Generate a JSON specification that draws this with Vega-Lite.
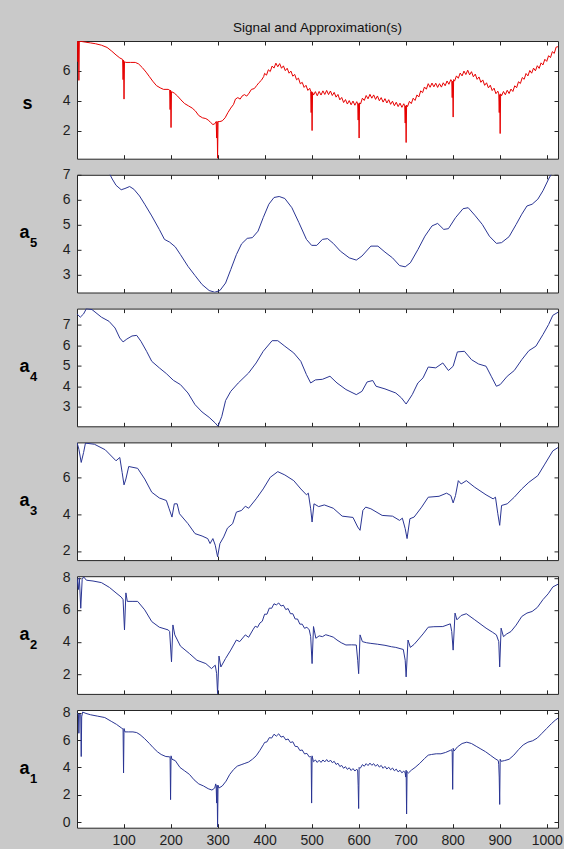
{
  "$schema": "https://vega.github.io/schema/vega-lite/v6.json",
  "background": "#c9c9c9",
  "padding": {"left": 18, "right": 5, "top": 20, "bottom": 4},
  "spacing": 15.8,
  "bounds": "flush",
  "datasets": {
    "s": [
      {"x":1,"y":7.95},{"x":2,"y":7.95},{"x":3,"y":6.6},{"x":4,"y":7.95},{"x":5,"y":5.35},{"x":6,"y":7.95},{"x":10,"y":7.95},{"x":20,"y":7.9},{"x":30,"y":7.85},{"x":40,"y":7.8},{"x":53,"y":7.7},{"x":65,"y":7.55},{"x":75,"y":7.3},{"x":84,"y":7.05},{"x":92,"y":6.85},{"x":98,"y":6.75},{"x":99,"y":5.4},{"x":100,"y":6.7},{"x":101,"y":4.1},{"x":102,"y":6.6},{"x":105,"y":6.55},{"x":115,"y":6.55},{"x":125,"y":6.55},{"x":132,"y":6.45},{"x":140,"y":6.2},{"x":148,"y":5.9},{"x":155,"y":5.6},{"x":162,"y":5.3},{"x":170,"y":5.0},{"x":178,"y":4.85},{"x":185,"y":4.75},{"x":195,"y":4.75},{"x":198,"y":4.7},{"x":199,"y":3.4},{"x":200,"y":4.7},{"x":201,"y":2.2},{"x":202,"y":4.6},{"x":208,"y":4.5},{"x":215,"y":4.3},{"x":222,"y":4.05},{"x":230,"y":3.8},{"x":238,"y":3.65},{"x":246,"y":3.5},{"x":253,"y":3.3},{"x":260,"y":3.0},{"x":268,"y":2.85},{"x":275,"y":2.8},{"x":280,"y":2.7},{"x":285,"y":2.55},{"x":290,"y":2.4},{"x":294,"y":2.45},{"x":297,"y":2.6},{"x":298,"y":1.5},{"x":299,"y":2.6},{"x":300,"y":0.15},{"x":301,"y":2.6},{"x":305,"y":2.6},{"x":310,"y":2.65},{"x":316,"y":2.85},{"x":322,"y":3.2},{"x":328,"y":3.5},{"x":334,"y":3.75},{"x":338,"y":4.1},{"x":343,"y":4.2},{"x":348,"y":4.1},{"x":352,"y":4.3},{"x":357,"y":4.4},{"x":362,"y":4.3},{"x":367,"y":4.5},{"x":372,"y":4.75},{"x":378,"y":4.8},{"x":383,"y":5.0},{"x":388,"y":5.2},{"x":393,"y":5.35},{"x":398,"y":5.6},
      {"x":400,"y":5.82},{"x":404,"y":5.7},{"x":408,"y":6.06},{"x":412,"y":5.94},{"x":416,"y":6.31},{"x":420,"y":6.17},{"x":424,"y":6.5},{"x":428,"y":6.26},{"x":432,"y":6.47},{"x":436,"y":6.16},{"x":440,"y":6.32},{"x":444,"y":6.0},{"x":448,"y":6.16},{"x":452,"y":5.83},{"x":456,"y":5.97},{"x":460,"y":5.63},{"x":464,"y":5.75},{"x":468,"y":5.39},{"x":472,"y":5.5},{"x":476,"y":5.12},{"x":480,"y":5.22},{"x":484,"y":4.88},{"x":488,"y":5.02},{"x":492,"y":4.68},{"x":496,"y":4.82},{"x":498,"y":4.62},{"x":499,"y":3.2},{"x":500,"y":4.6},{"x":501,"y":2.0},{"x":502,"y":4.55},
      {"x":504,"y":4.37},{"x":508,"y":4.6},{"x":512,"y":4.32},{"x":516,"y":4.61},{"x":520,"y":4.37},{"x":524,"y":4.65},{"x":528,"y":4.41},{"x":532,"y":4.68},{"x":536,"y":4.4},{"x":540,"y":4.64},{"x":544,"y":4.34},{"x":548,"y":4.55},{"x":552,"y":4.23},{"x":556,"y":4.41},{"x":560,"y":4.05},{"x":564,"y":4.21},{"x":568,"y":3.87},{"x":572,"y":4.07},{"x":576,"y":3.77},{"x":580,"y":4.0},{"x":584,"y":3.72},{"x":588,"y":3.97},{"x":592,"y":3.69},{"x":596,"y":3.93},{"x":598,"y":3.78},{"x":599,"y":2.7},{"x":600,"y":3.8},{"x":601,"y":1.5},{"x":602,"y":3.85},
      {"x":604,"y":3.77},{"x":608,"y":4.16},{"x":612,"y":4.01},{"x":616,"y":4.34},{"x":620,"y":4.12},{"x":624,"y":4.42},{"x":628,"y":4.16},{"x":632,"y":4.38},{"x":636,"y":4.08},{"x":640,"y":4.31},{"x":644,"y":3.99},{"x":648,"y":4.2},{"x":652,"y":3.9},{"x":656,"y":4.13},{"x":660,"y":3.84},{"x":664,"y":4.06},{"x":668,"y":3.75},{"x":672,"y":3.96},{"x":676,"y":3.66},{"x":680,"y":3.89},{"x":684,"y":3.6},{"x":688,"y":3.83},{"x":692,"y":3.55},{"x":696,"y":3.79},{"x":698,"y":3.65},{"x":699,"y":2.5},{"x":700,"y":3.65},{"x":701,"y":1.2},{"x":702,"y":3.7},
      {"x":704,"y":3.6},{"x":708,"y":3.95},{"x":712,"y":3.8},{"x":716,"y":4.16},{"x":720,"y":4.01},{"x":724,"y":4.38},{"x":728,"y":4.24},{"x":732,"y":4.65},{"x":736,"y":4.53},{"x":740,"y":4.91},{"x":744,"y":4.76},{"x":748,"y":5.13},{"x":752,"y":4.89},{"x":756,"y":5.17},{"x":760,"y":4.92},{"x":764,"y":5.16},{"x":768,"y":4.88},{"x":772,"y":5.13},{"x":776,"y":4.9},{"x":780,"y":5.19},{"x":784,"y":4.99},{"x":788,"y":5.31},{"x":792,"y":5.09},{"x":796,"y":5.4},{"x":798,"y":5.3},{"x":799,"y":4.2},{"x":800,"y":5.3},{"x":801,"y":2.9},{"x":802,"y":5.4},
      {"x":804,"y":5.3},{"x":808,"y":5.65},{"x":812,"y":5.49},{"x":816,"y":5.84},{"x":820,"y":5.65},{"x":824,"y":5.97},{"x":828,"y":5.74},{"x":832,"y":6.03},{"x":836,"y":5.72},{"x":840,"y":5.93},{"x":844,"y":5.59},{"x":848,"y":5.77},{"x":852,"y":5.42},{"x":856,"y":5.58},{"x":860,"y":5.22},{"x":864,"y":5.38},{"x":868,"y":5.02},{"x":872,"y":5.19},{"x":876,"y":4.85},{"x":880,"y":5.03},{"x":884,"y":4.67},{"x":888,"y":4.83},{"x":892,"y":4.46},{"x":896,"y":4.63},{"x":898,"y":4.45},{"x":899,"y":3.2},{"x":900,"y":4.4},{"x":901,"y":1.8},{"x":902,"y":4.45},
      {"x":904,"y":4.32},{"x":908,"y":4.61},{"x":912,"y":4.39},{"x":916,"y":4.69},{"x":920,"y":4.47},{"x":924,"y":4.77},{"x":928,"y":4.61},{"x":932,"y":4.99},{"x":936,"y":4.86},{"x":940,"y":5.26},{"x":944,"y":5.14},{"x":948,"y":5.54},{"x":952,"y":5.42},{"x":956,"y":5.81},{"x":960,"y":5.65},{"x":964,"y":6.01},{"x":968,"y":5.83},{"x":972,"y":6.17},{"x":976,"y":5.99},{"x":980,"y":6.33},{"x":984,"y":6.15},{"x":988,"y":6.52},{"x":992,"y":6.38},{"x":996,"y":6.76},{"x":1000,"y":6.62},{"x":1004,"y":7.0},{"x":1008,"y":6.87},{"x":1012,"y":7.27},{"x":1016,"y":7.15},{"x":1020,"y":7.57},{"x":1024,"y":7.6}
    ],
    "a5": [
      {"x":1,"y":7.9},{"x":30,"y":7.8},{"x":55,"y":7.45},{"x":70,"y":7.05},{"x":76,"y":6.83},{"x":84,"y":6.58},{"x":95,"y":6.4},{"x":103,"y":6.45},{"x":113,"y":6.53},{"x":122,"y":6.42},{"x":134,"y":6.15},{"x":145,"y":5.82},{"x":160,"y":5.35},{"x":176,"y":4.81},{"x":187,"y":4.41},{"x":198,"y":4.3},{"x":210,"y":4.11},{"x":221,"y":3.8},{"x":237,"y":3.33},{"x":252,"y":2.96},{"x":267,"y":2.6},{"x":282,"y":2.36},{"x":294,"y":2.29},{"x":305,"y":2.36},{"x":317,"y":2.66},{"x":328,"y":3.2},{"x":340,"y":3.8},{"x":351,"y":4.23},{"x":363,"y":4.45},{"x":374,"y":4.48},{"x":386,"y":4.74},{"x":397,"y":5.28},{"x":409,"y":5.82},{"x":420,"y":6.09},{"x":431,"y":6.13},{"x":443,"y":6.05},{"x":458,"y":5.68},{"x":473,"y":5.08},{"x":489,"y":4.41},{"x":500,"y":4.17},{"x":511,"y":4.17},{"x":523,"y":4.41},{"x":534,"y":4.44},{"x":546,"y":4.25},{"x":561,"y":3.94},{"x":580,"y":3.67},{"x":595,"y":3.58},{"x":607,"y":3.74},{"x":626,"y":4.14},{"x":641,"y":4.14},{"x":656,"y":3.9},{"x":672,"y":3.67},{"x":687,"y":3.36},{"x":699,"y":3.31},{"x":710,"y":3.47},{"x":726,"y":4.0},{"x":741,"y":4.54},{"x":756,"y":4.95},{"x":768,"y":5.05},{"x":781,"y":4.81},{"x":791,"y":4.84},{"x":806,"y":5.28},{"x":822,"y":5.64},{"x":833,"y":5.68},{"x":847,"y":5.38},{"x":863,"y":5.01},{"x":878,"y":4.54},{"x":893,"y":4.25},{"x":904,"y":4.28},{"x":920,"y":4.52},{"x":935,"y":5.01},{"x":947,"y":5.42},{"x":958,"y":5.75},{"x":969,"y":5.82},{"x":981,"y":6.02},{"x":992,"y":6.36},{"x":1004,"y":6.83},{"x":1009,"y":7.0},{"x":1024,"y":7.3}
    ],
    "a4": [
      {"x":1,"y":7.54},{"x":8,"y":7.38},{"x":15,"y":7.54},{"x":21,"y":7.8},{"x":33,"y":7.75},{"x":53,"y":7.38},{"x":69,"y":7.18},{"x":82,"y":6.85},{"x":92,"y":6.36},{"x":99,"y":6.17},{"x":107,"y":6.31},{"x":118,"y":6.46},{"x":128,"y":6.49},{"x":137,"y":6.2},{"x":149,"y":5.71},{"x":160,"y":5.22},{"x":176,"y":4.9},{"x":191,"y":4.62},{"x":206,"y":4.29},{"x":221,"y":4.08},{"x":237,"y":3.67},{"x":252,"y":3.1},{"x":267,"y":2.74},{"x":282,"y":2.48},{"x":295,"y":2.2},{"x":301,"y":2.04},{"x":309,"y":2.53},{"x":317,"y":3.3},{"x":328,"y":3.75},{"x":344,"y":4.16},{"x":366,"y":4.65},{"x":382,"y":5.14},{"x":397,"y":5.71},{"x":416,"y":6.23},{"x":428,"y":6.23},{"x":443,"y":5.96},{"x":462,"y":5.63},{"x":477,"y":5.22},{"x":489,"y":4.57},{"x":498,"y":4.16},{"x":508,"y":4.31},{"x":523,"y":4.34},{"x":539,"y":4.49},{"x":554,"y":4.16},{"x":573,"y":3.84},{"x":595,"y":3.59},{"x":607,"y":3.75},{"x":618,"y":4.21},{"x":630,"y":4.28},{"x":637,"y":4.0},{"x":656,"y":3.87},{"x":679,"y":3.67},{"x":691,"y":3.43},{"x":701,"y":3.13},{"x":714,"y":3.59},{"x":726,"y":4.16},{"x":737,"y":4.41},{"x":748,"y":4.94},{"x":764,"y":4.9},{"x":779,"y":5.14},{"x":791,"y":4.77},{"x":801,"y":4.98},{"x":810,"y":5.68},{"x":825,"y":5.71},{"x":840,"y":5.3},{"x":855,"y":5.09},{"x":871,"y":4.98},{"x":882,"y":4.49},{"x":893,"y":4.0},{"x":901,"y":4.08},{"x":916,"y":4.49},{"x":931,"y":4.77},{"x":947,"y":5.3},{"x":962,"y":5.74},{"x":977,"y":5.96},{"x":992,"y":6.53},{"x":1004,"y":7.02},{"x":1013,"y":7.47},{"x":1024,"y":7.62}
    ],
    "a3": [
      {"x":1,"y":7.89},{"x":5,"y":7.53},{"x":10,"y":6.81},{"x":15,"y":7.35},{"x":19,"y":7.86},{"x":38,"y":7.8},{"x":61,"y":7.5},{"x":84,"y":6.9},{"x":92,"y":7.08},{"x":97,"y":6.27},{"x":101,"y":5.59},{"x":105,"y":5.91},{"x":111,"y":6.59},{"x":130,"y":6.49},{"x":145,"y":5.91},{"x":160,"y":5.19},{"x":176,"y":4.88},{"x":191,"y":4.74},{"x":197,"y":4.29},{"x":203,"y":3.84},{"x":208,"y":4.56},{"x":214,"y":4.56},{"x":219,"y":4.02},{"x":237,"y":3.48},{"x":252,"y":2.94},{"x":267,"y":2.81},{"x":279,"y":2.67},{"x":284,"y":2.4},{"x":290,"y":2.67},{"x":295,"y":2.31},{"x":300,"y":1.68},{"x":305,"y":2.4},{"x":313,"y":2.76},{"x":321,"y":3.24},{"x":332,"y":3.48},{"x":340,"y":4.11},{"x":351,"y":4.2},{"x":359,"y":4.43},{"x":366,"y":4.32},{"x":382,"y":4.83},{"x":397,"y":5.37},{"x":412,"y":6.0},{"x":428,"y":6.31},{"x":443,"y":6.13},{"x":462,"y":5.82},{"x":477,"y":5.37},{"x":489,"y":5.05},{"x":493,"y":5.14},{"x":498,"y":4.29},{"x":501,"y":3.57},{"x":505,"y":4.56},{"x":515,"y":4.41},{"x":527,"y":4.5},{"x":546,"y":4.32},{"x":565,"y":3.89},{"x":588,"y":3.82},{"x":598,"y":3.3},{"x":603,"y":3.12},{"x":609,"y":4.2},{"x":615,"y":4.38},{"x":626,"y":4.29},{"x":650,"y":3.93},{"x":672,"y":3.89},{"x":687,"y":3.66},{"x":693,"y":3.78},{"x":699,"y":3.21},{"x":703,"y":2.67},{"x":709,"y":3.75},{"x":718,"y":3.84},{"x":734,"y":4.38},{"x":748,"y":4.92},{"x":771,"y":4.97},{"x":787,"y":5.14},{"x":796,"y":5.01},{"x":801,"y":4.61},{"x":806,"y":5.01},{"x":812,"y":5.82},{"x":818,"y":5.64},{"x":829,"y":5.82},{"x":847,"y":5.46},{"x":871,"y":5.05},{"x":886,"y":4.83},{"x":891,"y":4.92},{"x":896,"y":4.02},{"x":900,"y":3.39},{"x":904,"y":4.47},{"x":916,"y":4.56},{"x":931,"y":4.92},{"x":947,"y":5.37},{"x":962,"y":5.73},{"x":981,"y":6.09},{"x":996,"y":6.72},{"x":1013,"y":7.44},{"x":1024,"y":7.62}
    ],
    "a2": [
      {"x":1,"y":8.0},{"x":4,"y":7.27},{"x":6,"y":8.0},{"x":9,"y":6.1},{"x":12,"y":7.9},{"x":15,"y":8.06},{"x":21,"y":7.85},{"x":35,"y":7.8},{"x":53,"y":7.7},{"x":70,"y":7.4},{"x":84,"y":7.06},{"x":95,"y":6.8},{"x":99,"y":6.64},{"x":102,"y":4.75},{"x":105,"y":7.06},{"x":108,"y":6.53},{"x":120,"y":6.53},{"x":130,"y":6.53},{"x":145,"y":6.0},{"x":160,"y":5.27},{"x":176,"y":4.92},{"x":195,"y":4.75},{"x":198,"y":4.65},{"x":202,"y":2.76},{"x":205,"y":5.06},{"x":209,"y":4.44},{"x":221,"y":3.74},{"x":240,"y":3.28},{"x":256,"y":2.86},{"x":275,"y":2.65},{"x":287,"y":2.34},{"x":295,"y":2.55},{"x":298,"y":2.02},{"x":300,"y":0.77},{"x":303,"y":3.12},{"x":307,"y":2.44},{"x":317,"y":2.97},{"x":328,"y":3.49},{"x":340,"y":4.12},{"x":347,"y":4.02},{"x":359,"y":4.44},{"x":366,"y":4.29},{"x":375,"y":4.75},
      {"x":380,"y":4.98},{"x":385,"y":4.91},{"x":390,"y":5.18},{"x":395,"y":5.29},{"x":400,"y":5.73},{"x":405,"y":5.73},{"x":410,"y":6.11},{"x":415,"y":6.1},{"x":420,"y":6.38},{"x":425,"y":6.31},{"x":430,"y":6.43},{"x":435,"y":6.24},{"x":440,"y":6.29},{"x":445,"y":6.02},{"x":450,"y":6.08},{"x":455,"y":5.76},{"x":460,"y":5.76},{"x":465,"y":5.43},{"x":470,"y":5.43},{"x":475,"y":5.11},{"x":480,"y":5.11},{"x":485,"y":4.85},{"x":490,"y":4.92},{"x":495,"y":4.75},
      {"x":498,"y":4.33},{"x":501,"y":2.65},{"x":504,"y":4.96},{"x":509,"y":4.23},{"x":516,"y":4.38},{"x":523,"y":4.33},{"x":530,"y":4.45},{"x":538,"y":4.38},{"x":546,"y":4.3},{"x":554,"y":4.12},{"x":563,"y":3.95},{"x":573,"y":3.81},{"x":585,"y":3.82},{"x":595,"y":3.81},{"x":598,"y":2.86},{"x":600,"y":2.02},{"x":603,"y":4.44},{"x":608,"y":4.02},{"x":617,"y":3.95},{"x":626,"y":3.91},{"x":640,"y":3.86},{"x":656,"y":3.79},{"x":670,"y":3.7},{"x":679,"y":3.66},{"x":695,"y":3.53},{"x":699,"y":2.86},{"x":701,"y":1.82},{"x":705,"y":4.12},{"x":710,"y":3.66},{"x":718,"y":3.85},{"x":726,"y":4.12},{"x":737,"y":4.5},{"x":748,"y":4.92},{"x":760,"y":4.95},{"x":779,"y":4.96},{"x":795,"y":5.13},{"x":798,"y":4.65},{"x":801,"y":3.49},{"x":805,"y":5.8},{"x":809,"y":5.38},{"x":818,"y":5.65},{"x":829,"y":5.76},{"x":847,"y":5.38},{"x":871,"y":4.86},{"x":885,"y":4.6},{"x":893,"y":4.44},{"x":898,"y":4.02},{"x":900,"y":2.44},{"x":903,"y":4.86},{"x":908,"y":4.33},{"x":915,"y":4.5},{"x":924,"y":4.65},{"x":935,"y":5.05},{"x":947,"y":5.59},{"x":958,"y":5.8},{"x":969,"y":5.9},{"x":980,"y":6.15},{"x":992,"y":6.64},{"x":1003,"y":7.0},{"x":1013,"y":7.43},{"x":1024,"y":7.6}
    ],
    "a1": [
      {"x":1,"y":7.95},{"x":4,"y":7.9},{"x":5,"y":6.5},{"x":6,"y":7.9},{"x":9,"y":7.85},{"x":10,"y":4.8},{"x":11,"y":7.7},{"x":13,"y":8.05},{"x":20,"y":7.95},{"x":30,"y":7.85},{"x":45,"y":7.75},{"x":60,"y":7.65},{"x":75,"y":7.35},{"x":85,"y":7.15},{"x":95,"y":6.9},{"x":99,"y":6.8},{"x":100,"y":3.6},{"x":101,"y":6.85},{"x":103,"y":6.6},{"x":110,"y":6.6},{"x":120,"y":6.6},{"x":128,"y":6.55},{"x":135,"y":6.4},{"x":145,"y":6.1},{"x":155,"y":5.75},{"x":163,"y":5.45},{"x":172,"y":5.15},{"x":180,"y":4.95},{"x":190,"y":4.8},{"x":198,"y":4.78},{"x":199,"y":4.7},{"x":200,"y":1.65},{"x":201,"y":4.85},{"x":203,"y":4.6},{"x":210,"y":4.5},{"x":220,"y":4.0},{"x":230,"y":3.75},{"x":240,"y":3.5},{"x":250,"y":3.1},{"x":260,"y":2.8},{"x":270,"y":2.65},{"x":280,"y":2.45},{"x":288,"y":2.35},{"x":294,"y":2.5},{"x":296,"y":2.8},{"x":297,"y":2.6},{"x":298,"y":1.4},{"x":299,"y":2.7},{"x":300,"y":-0.35},{"x":301,"y":2.7},{"x":303,"y":2.5},{"x":310,"y":2.65},{"x":318,"y":3.0},{"x":326,"y":3.5},{"x":334,"y":3.85},{"x":342,"y":4.1},{"x":350,"y":4.2},{"x":358,"y":4.3},{"x":366,"y":4.4},{"x":374,"y":4.6},{"x":382,"y":4.85},{"x":390,"y":5.25},{"x":398,"y":5.7},
      {"x":400,"y":5.83},{"x":405,"y":5.87},{"x":410,"y":6.18},{"x":415,"y":6.15},{"x":420,"y":6.43},{"x":425,"y":6.29},{"x":430,"y":6.46},{"x":435,"y":6.22},{"x":440,"y":6.28},{"x":445,"y":6.02},{"x":450,"y":6.08},{"x":455,"y":5.82},{"x":460,"y":5.88},{"x":465,"y":5.54},{"x":470,"y":5.53},{"x":475,"y":5.24},{"x":480,"y":5.28},{"x":485,"y":4.99},{"x":490,"y":5.03},{"x":495,"y":4.77},{"x":498,"y":4.8},{"x":499,"y":4.75},{"x":500,"y":1.4},{"x":501,"y":4.85},{"x":502,"y":4.7},
      {"x":504,"y":4.42},{"x":508,"y":4.55},{"x":512,"y":4.37},{"x":516,"y":4.53},{"x":520,"y":4.37},{"x":524,"y":4.55},{"x":528,"y":4.41},{"x":532,"y":4.58},{"x":536,"y":4.4},{"x":540,"y":4.54},{"x":544,"y":4.35},{"x":548,"y":4.45},{"x":552,"y":4.22},{"x":556,"y":4.31},{"x":560,"y":4.07},{"x":564,"y":4.15},{"x":568,"y":3.94},{"x":572,"y":4.06},{"x":576,"y":3.86},{"x":580,"y":3.98},{"x":584,"y":3.78},{"x":588,"y":3.92},{"x":592,"y":3.74},{"x":596,"y":3.88},{"x":598,"y":3.75},{"x":599,"y":2.7},{"x":600,"y":1.0},{"x":601,"y":4.0},{"x":602,"y":3.95},
      {"x":604,"y":3.97},{"x":608,"y":4.21},{"x":612,"y":4.09},{"x":616,"y":4.28},{"x":620,"y":4.14},{"x":624,"y":4.32},{"x":628,"y":4.16},{"x":632,"y":4.28},{"x":636,"y":4.09},{"x":640,"y":4.23},{"x":644,"y":4.03},{"x":648,"y":4.15},{"x":652,"y":3.94},{"x":656,"y":4.08},{"x":660,"y":3.89},{"x":664,"y":4.02},{"x":668,"y":3.83},{"x":672,"y":3.96},{"x":676,"y":3.76},{"x":680,"y":3.88},{"x":684,"y":3.68},{"x":688,"y":3.8},{"x":692,"y":3.61},{"x":696,"y":3.74},{"x":699,"y":3.6},{"x":700,"y":3.3},{"x":701,"y":3.8},{"x":702,"y":0.6},{"x":703,"y":3.7},
      {"x":706,"y":3.6},{"x":712,"y":3.8},{"x":720,"y":4.0},{"x":730,"y":4.3},{"x":740,"y":4.65},{"x":748,"y":4.9},{"x":755,"y":4.95},{"x":765,"y":5.0},{"x":775,"y":5.0},{"x":785,"y":5.1},{"x":795,"y":5.25},{"x":798,"y":5.3},{"x":799,"y":5.1},{"x":800,"y":2.4},{"x":801,"y":5.4},{"x":803,"y":5.2},{"x":810,"y":5.5},{"x":820,"y":5.75},{"x":830,"y":5.85},{"x":840,"y":5.75},{"x":850,"y":5.55},{"x":860,"y":5.35},{"x":870,"y":5.15},{"x":880,"y":4.9},{"x":890,"y":4.65},{"x":897,"y":4.5},{"x":898,"y":4.2},{"x":899,"y":3.3},{"x":900,"y":1.3},{"x":901,"y":4.6},{"x":903,"y":4.45},{"x":910,"y":4.5},{"x":920,"y":4.6},{"x":930,"y":4.9},{"x":940,"y":5.3},{"x":950,"y":5.65},{"x":960,"y":5.85},{"x":970,"y":5.95},{"x":980,"y":6.15},{"x":990,"y":6.5},{"x":1000,"y":6.85},{"x":1010,"y":7.2},{"x":1018,"y":7.45},{"x":1024,"y":7.6}
    ]
  },
  "vconcat": [
    {
      "width": 481, "height": 117.7,
      "data": {"name": "s"},
      "title": {"text": "Signal and Approximation(s)", "fontSize": 13.5, "fontWeight": "normal", "font": "Liberation Sans", "color": "#111111", "anchor": "middle", "frame": "group", "baseline": "alphabetic", "offset": -5},
      "layer": [
        {"mark": {"type": "line", "color": "#e60000", "strokeWidth": 1, "clip": true},
         "encoding": {
           "x": {"field": "x", "type": "quantitative", "scale": {"domain": [1, 1024], "nice": false, "zero": false}, "axis": {"orient": "bottom", "values": [100,200,300,400,500,600,700,800,900,1000], "labels": false, "title": null}},
           "y": {"field": "y", "type": "quantitative", "scale": {"domain": [0.12, 7.98], "nice": false, "zero": false}, "axis": {"orient": "left", "values": [2,4,6], "title": "s", "titleAngle": 0, "titleFontSize": 18, "titleFontWeight": "bold", "titleAlign": "center", "titleBaseline": "alphabetic", "titleX": -50, "titleY": 67}}
         }},
        {"mark": {"type": "line", "opacity": 0, "clip": true},
         "encoding": {
           "x": {"field": "x", "type": "quantitative", "scale": {"domain": [1, 1024], "nice": false, "zero": false}, "axis": {"orient": "top", "values": [100,200,300,400,500,600,700,800,900,1000], "labels": false, "title": null}},
           "y": {"field": "y", "type": "quantitative", "scale": {"domain": [0.12, 7.98], "nice": false, "zero": false}, "axis": {"orient": "right", "values": [2,4,6], "labels": false, "title": null}}
         }}
      ],
      "resolve": {"axis": {"x": "independent", "y": "independent"}}
    },
    {
      "width": 481, "height": 117.7,
      "data": {"name": "a5"},
      "layer": [
        {"mark": {"type": "line", "color": "#2a3593", "strokeWidth": 1, "clip": true},
         "encoding": {
           "x": {"field": "x", "type": "quantitative", "scale": {"domain": [1, 1024], "nice": false, "zero": false}, "axis": {"orient": "bottom", "values": [100,200,300,400,500,600,700,800,900,1000], "labels": false, "title": null}},
           "y": {"field": "y", "type": "quantitative", "scale": {"domain": [2.28, 7.0], "nice": false, "zero": false}, "axis": {"orient": "left", "values": [3,4,5,6,7], "title": "a", "titleAngle": 0, "titleFontSize": 18, "titleFontWeight": "bold", "titleAlign": "center", "titleBaseline": "alphabetic", "titleX": -53, "titleY": 63}}
         }},
        {"mark": {"type": "line", "opacity": 0, "clip": true},
         "encoding": {
           "x": {"field": "x", "type": "quantitative", "scale": {"domain": [1, 1024], "nice": false, "zero": false}, "axis": {"orient": "top", "values": [100,200,300,400,500,600,700,800,900,1000], "labels": false, "title": null}},
           "y": {"field": "y", "type": "quantitative", "scale": {"domain": [2.28, 7.0], "nice": false, "zero": false}, "axis": {"orient": "right", "values": [3,4,5,6,7], "labels": false, "title": "5", "titleAngle": 0, "titleFontSize": 13, "titleFontWeight": "bold", "titleAlign": "center", "titleBaseline": "alphabetic", "titleX": -525, "titleY": 72}}
         }}
      ],
      "resolve": {"axis": {"x": "independent", "y": "independent"}}
    },
    {
      "width": 481, "height": 117.7,
      "data": {"name": "a4"},
      "layer": [
        {"mark": {"type": "line", "color": "#2a3593", "strokeWidth": 1, "clip": true},
         "encoding": {
           "x": {"field": "x", "type": "quantitative", "scale": {"domain": [1, 1024], "nice": false, "zero": false}, "axis": {"orient": "bottom", "values": [100,200,300,400,500,600,700,800,900,1000], "labels": false, "title": null}},
           "y": {"field": "y", "type": "quantitative", "scale": {"domain": [2.04, 7.8], "nice": false, "zero": false}, "axis": {"orient": "left", "values": [3,4,5,6,7], "title": "a", "titleAngle": 0, "titleFontSize": 18, "titleFontWeight": "bold", "titleAlign": "center", "titleBaseline": "alphabetic", "titleX": -53, "titleY": 63}}
         }},
        {"mark": {"type": "line", "opacity": 0, "clip": true},
         "encoding": {
           "x": {"field": "x", "type": "quantitative", "scale": {"domain": [1, 1024], "nice": false, "zero": false}, "axis": {"orient": "top", "values": [100,200,300,400,500,600,700,800,900,1000], "labels": false, "title": null}},
           "y": {"field": "y", "type": "quantitative", "scale": {"domain": [2.04, 7.8], "nice": false, "zero": false}, "axis": {"orient": "right", "values": [3,4,5,6,7], "labels": false, "title": "4", "titleAngle": 0, "titleFontSize": 13, "titleFontWeight": "bold", "titleAlign": "center", "titleBaseline": "alphabetic", "titleX": -525, "titleY": 72}}
         }}
      ],
      "resolve": {"axis": {"x": "independent", "y": "independent"}}
    },
    {
      "width": 481, "height": 117.7,
      "data": {"name": "a3"},
      "layer": [
        {"mark": {"type": "line", "color": "#2a3593", "strokeWidth": 1, "clip": true},
         "encoding": {
           "x": {"field": "x", "type": "quantitative", "scale": {"domain": [1, 1024], "nice": false, "zero": false}, "axis": {"orient": "bottom", "values": [100,200,300,400,500,600,700,800,900,1000], "labels": false, "title": null}},
           "y": {"field": "y", "type": "quantitative", "scale": {"domain": [1.5, 7.9], "nice": false, "zero": false}, "axis": {"orient": "left", "values": [2,4,6], "title": "a", "titleAngle": 0, "titleFontSize": 18, "titleFontWeight": "bold", "titleAlign": "center", "titleBaseline": "alphabetic", "titleX": -53, "titleY": 63}}
         }},
        {"mark": {"type": "line", "opacity": 0, "clip": true},
         "encoding": {
           "x": {"field": "x", "type": "quantitative", "scale": {"domain": [1, 1024], "nice": false, "zero": false}, "axis": {"orient": "top", "values": [100,200,300,400,500,600,700,800,900,1000], "labels": false, "title": null}},
           "y": {"field": "y", "type": "quantitative", "scale": {"domain": [1.5, 7.9], "nice": false, "zero": false}, "axis": {"orient": "right", "values": [2,4,6], "labels": false, "title": "3", "titleAngle": 0, "titleFontSize": 13, "titleFontWeight": "bold", "titleAlign": "center", "titleBaseline": "alphabetic", "titleX": -525, "titleY": 72}}
         }}
      ],
      "resolve": {"axis": {"x": "independent", "y": "independent"}}
    },
    {
      "width": 481, "height": 117.7,
      "data": {"name": "a2"},
      "layer": [
        {"mark": {"type": "line", "color": "#2a3593", "strokeWidth": 1, "clip": true},
         "encoding": {
           "x": {"field": "x", "type": "quantitative", "scale": {"domain": [1, 1024], "nice": false, "zero": false}, "axis": {"orient": "bottom", "values": [100,200,300,400,500,600,700,800,900,1000], "labels": false, "title": null}},
           "y": {"field": "y", "type": "quantitative", "scale": {"domain": [0.76, 8.1], "nice": false, "zero": false}, "axis": {"orient": "left", "values": [2,4,6,8], "title": "a", "titleAngle": 0, "titleFontSize": 18, "titleFontWeight": "bold", "titleAlign": "center", "titleBaseline": "alphabetic", "titleX": -53, "titleY": 63}}
         }},
        {"mark": {"type": "line", "opacity": 0, "clip": true},
         "encoding": {
           "x": {"field": "x", "type": "quantitative", "scale": {"domain": [1, 1024], "nice": false, "zero": false}, "axis": {"orient": "top", "values": [100,200,300,400,500,600,700,800,900,1000], "labels": false, "title": null}},
           "y": {"field": "y", "type": "quantitative", "scale": {"domain": [0.76, 8.1], "nice": false, "zero": false}, "axis": {"orient": "right", "values": [2,4,6,8], "labels": false, "title": "2", "titleAngle": 0, "titleFontSize": 13, "titleFontWeight": "bold", "titleAlign": "center", "titleBaseline": "alphabetic", "titleX": -525, "titleY": 72}}
         }}
      ],
      "resolve": {"axis": {"x": "independent", "y": "independent"}}
    },
    {
      "width": 481, "height": 117.7,
      "data": {"name": "a1"},
      "layer": [
        {"mark": {"type": "line", "color": "#2a3593", "strokeWidth": 1, "clip": true},
         "encoding": {
           "x": {"field": "x", "type": "quantitative", "scale": {"domain": [1, 1024], "nice": false, "zero": false}, "axis": {"orient": "bottom", "values": [100,200,300,400,500,600,700,800,900,1000], "format": "d", "labels": true, "labelPadding": 10, "labelFlush": false, "title": null}},
           "y": {"field": "y", "type": "quantitative", "scale": {"domain": [-0.4, 8.2], "nice": false, "zero": false}, "axis": {"orient": "left", "values": [0,2,4,6,8], "title": "a", "titleAngle": 0, "titleFontSize": 18, "titleFontWeight": "bold", "titleAlign": "center", "titleBaseline": "alphabetic", "titleX": -53, "titleY": 63}}
         }},
        {"mark": {"type": "line", "opacity": 0, "clip": true},
         "encoding": {
           "x": {"field": "x", "type": "quantitative", "scale": {"domain": [1, 1024], "nice": false, "zero": false}, "axis": {"orient": "top", "values": [100,200,300,400,500,600,700,800,900,1000], "labels": false, "title": null}},
           "y": {"field": "y", "type": "quantitative", "scale": {"domain": [-0.4, 8.2], "nice": false, "zero": false}, "axis": {"orient": "right", "values": [0,2,4,6,8], "labels": false, "title": "1", "titleAngle": 0, "titleFontSize": 13, "titleFontWeight": "bold", "titleAlign": "center", "titleBaseline": "alphabetic", "titleX": -525, "titleY": 72}}
         }}
      ],
      "resolve": {"axis": {"x": "independent", "y": "independent"}}
    }
  ],
  "config": {
    "font": "Liberation Sans",
    "view": {"stroke": "#262626", "strokeWidth": 1, "fill": "#ffffff"},
    "axis": {"domain": false, "grid": false, "ticks": true, "tickSize": -4, "tickColor": "#262626", "tickWidth": 1, "labelFont": "Liberation Sans", "labelFontSize": 14, "labelColor": "#1e1e1e", "labelPadding": 11, "labelFlush": false, "titleFont": "Liberation Sans", "titleColor": "#000000"}
  }
}
